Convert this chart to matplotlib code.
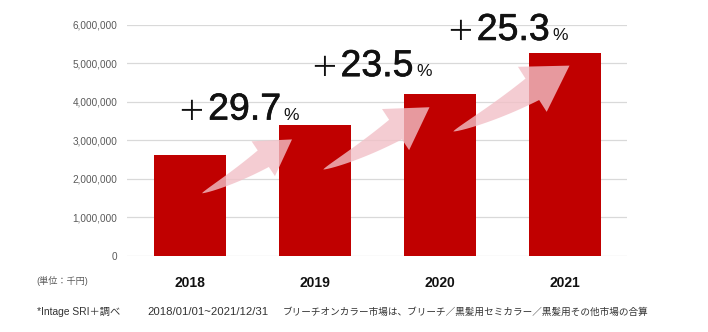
import numpy as np
import matplotlib
matplotlib.use("Agg")
import matplotlib.pyplot as plt
import matplotlib.patheffects as pe
from matplotlib.patches import Polygon
from matplotlib.transforms import IdentityTransform
from matplotlib.ticker import FuncFormatter, MultipleLocator

plt.rcParams["font.family"] = ["Liberation Sans", "Noto Sans CJK JP"]

# Bleach-on-color market size (unit: thousand yen)
years = ["2018", "2019", "2020", "2021"]
market = [2620000, 3398000, 4197000, 5259000]

# year-over-year growth in percent
growth = [(b / a - 1) * 100 for a, b in zip(market[:-1], market[1:])]

unit_label = "(単位：千円)"
footer_source = "*Intage SRI＋調べ"
footer_period = "2018/01/01~2021/12/31"
footer_note = "ブリーチオンカラー市場は、ブリーチ／黒髪用セミカラー／黒髪用その他市場の合算"

BAR_RED = "#C00000"
SWOOSH = "#F2C0C7"
INK = "#111111"

W, H = 708, 332
fig = plt.figure(figsize=(W / 100, H / 100), dpi=100)
ax = fig.add_axes([127 / W, 76.3 / H, 500 / W, 230.7 / H])

xpos = np.arange(len(years))
ax.bar(xpos, market, width=0.576, color=BAR_RED, zorder=2)

ax.set_xlim(-0.5, len(years) - 0.5)
ax.set_ylim(0, 6000000)
ax.yaxis.set_major_locator(MultipleLocator(1000000))
ax.yaxis.set_major_formatter(FuncFormatter(lambda v, p: f"{int(round(v)):,}"))
ax.grid(axis="y", color="#D9D9D9", linewidth=0.9)
ax.set_axisbelow(True)
for s in ax.spines.values():
    s.set_visible(False)
ax.tick_params(axis="y", length=0, pad=7, labelsize=7.2, labelcolor="#595959")
ax.tick_params(axis="x", length=0, pad=14.5)
ax.set_xticks(xpos)
ax.set_xticklabels(years, fontweight="bold", fontsize=10, color=INK)


def swoosh(ax, tail, tip, zorder=3):
    """Tapered, slightly curved arrow between two data points."""
    T = ax.transData.transform(tail)
    P = ax.transData.transform(tip)
    c = P - T
    length = np.hypot(*c)
    ang = np.arctan2(c[1], c[0]) + np.radians(3)
    d = np.array([np.cos(ang), np.sin(ang)])
    nrm = np.array([-d[1], d[0]])
    head_len, head_half, neck = 0.33 * length, 0.20 * length, 0.095 * length
    M = P - head_len * d
    C = M - d * 0.5 * np.hypot(*(M - T))
    t = np.linspace(0, 1, 50)
    B = ((1 - t) ** 2)[:, None] * T + (2 * (1 - t) * t)[:, None] * C + (t ** 2)[:, None] * M
    dB = (2 * (1 - t))[:, None] * (C - T) + (2 * t)[:, None] * (M - C)
    dB /= np.hypot(dB[:, 0], dB[:, 1])[:, None]
    N = np.column_stack([-dB[:, 1], dB[:, 0]])
    w = neck * t ** 0.75
    upper = B + N * w[:, None]
    lower = B - N * w[:, None]
    pts = np.vstack([upper, [M + nrm * head_half, P, M - nrm * head_half], lower[::-1]])
    ax.add_patch(Polygon(pts, closed=True, transform=IdentityTransform(),
                         facecolor=SWOOSH, alpha=0.8, lw=0, zorder=zorder))


# arrow layout: offsets from bar centres and fractions of bar heights
tail_dx = [0.10, 0.07, 0.11]
tail_frac = [0.62, 0.66, 0.77]
tip_dx = [-0.18, -0.08, 0.04]
tip_frac = [0.89, 0.92, 0.94]

for i in range(len(growth)):
    swoosh(ax,
           (xpos[i] + tail_dx[i], market[i] * tail_frac[i]),
           (xpos[i + 1] + tip_dx[i], market[i + 1] * tip_frac[i]))

# growth labels
label_x = [0.44, 1.50, 2.59]
label_y = [3540000, 4670000, 5610000]
heavy = [pe.withStroke(linewidth=0.45, foreground=INK)]

fig.canvas.draw()
renderer = fig.canvas.get_renderer()
for gx, gy, g in zip(label_x, label_y, growth):
    num = ax.text(gx, gy, f"{g:.1f}", ha="center", va="baseline", fontsize=27,
                  color=INK, zorder=4, path_effects=heavy)
    bb = num.get_window_extent(renderer)
    _, by = ax.transData.transform((gx, gy))
    ax.text(bb.x0 - 3, by, "＋", transform=IdentityTransform(), ha="right",
            va="baseline", fontsize=20, family=["Noto Sans CJK JP"],
            color=INK, zorder=4)
    ax.text(bb.x1 + 2.5, by, "%", transform=IdentityTransform(), ha="left",
            va="baseline", fontsize=12.5, color=INK, zorder=4)

fig.text(62 / W, 1 - 281 / H, unit_label, ha="center", va="center",
         fontsize=6.6, color="#595959")

fy = 1 - 312 / H
fig.text(37 / W, fy, footer_source, ha="left", va="center", fontsize=7.4, color="#333333")
fig.text(147 / W, fy, footer_period, ha="left", va="center", fontsize=8.2, color="#333333")
fig.text(283 / W, fy, footer_note, ha="left", va="center", fontsize=6.9, color="#333333")

fig.savefig("out.png", dpi=100)
